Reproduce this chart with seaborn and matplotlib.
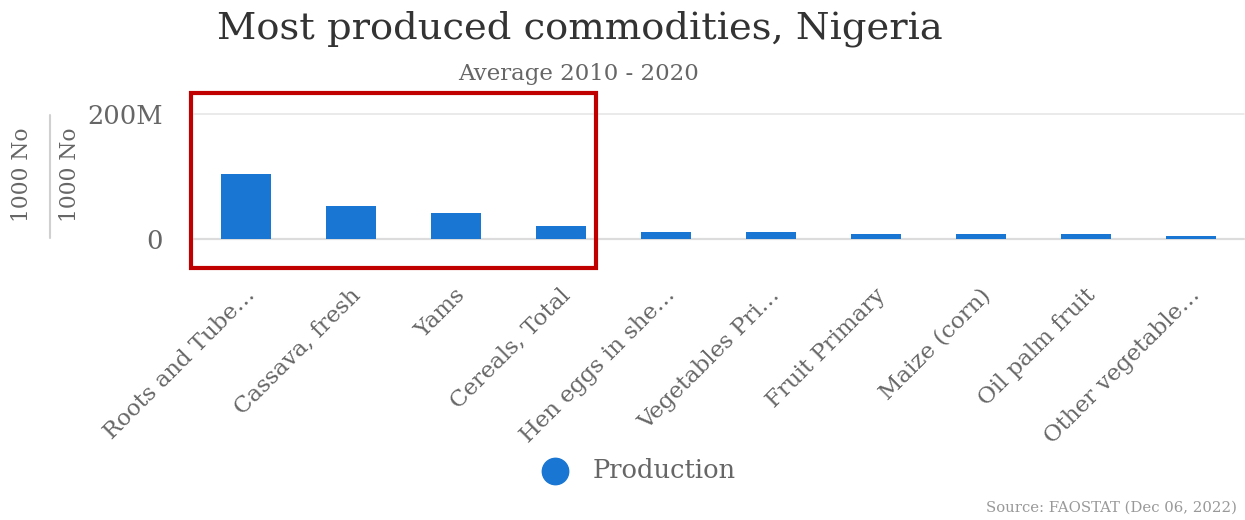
import matplotlib
matplotlib.use("Agg")
import matplotlib.pyplot as plt
import matplotlib.transforms as mtransforms
from matplotlib.patches import Rectangle
from matplotlib.lines import Line2D
import seaborn as sns
import pandas as pd

categories = [
    "Roots and Tube\u2026", "Cassava, fresh", "Yams", "Cereals, Total",
    "Hen eggs in she\u2026", "Vegetables Pri\u2026", "Fruit Primary",
    "Maize (corn)", "Oil palm fruit", "Other vegetable\u2026",
]
production = [104e6, 52e6, 42e6, 21e6, 11.5e6, 11e6, 7.8e6, 7.8e6, 7.9e6, 4.5e6]
y_ticks = [0, 200e6]
y_tick_labels = ["0", "200M"]

df = pd.DataFrame({"item": categories, "value": production})

sns.set_theme(style="white")
plt.rcParams["font.family"] = ["DejaVu Serif"]

W, H = 1245, 520
fig = plt.figure(figsize=(W / 100, H / 100), dpi=100)

def fx(px):
    return px / W

def fy(py):
    return 1 - py / H

left, right, top, base = 193.6, 1244, 114, 239
ax = fig.add_axes([fx(left), fy(base), fx(right - left), (base - top) / H])

bar_color = "#1976D2"
sns.barplot(data=df, x="item", y="value", color=bar_color, width=50 / 105,
            saturation=1, linewidth=0, ax=ax)

ax.set_xlim(-0.5, len(categories) - 0.5)
ax.set_ylim(0, 200e6)
for s in ax.spines.values():
    s.set_visible(False)
ax.set_xlabel("")
ax.set_ylabel("")

# grid line at the top and axis line at zero
ax.axhline(200e6, color="#e6e6e6", lw=1.2, zorder=0, clip_on=False)
ax.axhline(0, color="#dcdcdc", lw=1.6, zorder=0.5, clip_on=False)

# y ticks
ax.set_yticks(y_ticks)
ax.set_yticklabels(y_tick_labels, fontsize=18.5, color="#666666")
ax.tick_params(axis="y", length=0, pad=22)

# x category labels rotated
ax.set_xticks(range(len(categories)))
ax.set_xticklabels(categories, rotation=45, ha="right", va="center",
                   rotation_mode="anchor", fontsize=16.5, color="#666666")
ax.tick_params(axis="x", which="major", length=0, pad=38)
offset = mtransforms.ScaledTranslation(4 / 72, 0, fig.dpi_scale_trans)
for lbl in ax.get_xticklabels():
    lbl.set_transform(lbl.get_transform() + offset)

# category boundary ticks
ax.set_xticks([i + 0.5 for i in range(len(categories))], minor=True)
ax.tick_params(axis="x", which="minor", length=12, width=1.2,
               color="#dcdcdc", direction="out")

# titles
fig.text(fx(580), fy(29), "Most produced commodities, Nigeria",
         ha="center", va="center", fontsize=27.7, color="#333333")
fig.text(fx(579), fy(74), "Average 2010 - 2020",
         ha="center", va="center", fontsize=16.5, color="#666666")

# vertical axis titles
fig.text(fx(22), fy(175), "1000 No", rotation=90, ha="center", va="center",
         fontsize=15.7, color="#666666")
fig.text(fx(70), fy(175), "1000 No", rotation=90, ha="center", va="center",
         fontsize=15.7, color="#666666")
fig.add_artist(Line2D([fx(50), fx(50)], [fy(115), fy(238)],
                      color="#d0d0d0", lw=1.5, transform=fig.transFigure))

# highlight box
fig.add_artist(Rectangle((fx(191), fy(268)), fx(596 - 191), (268 - 93) / H,
                         fill=False, edgecolor="#C00000", lw=3,
                         transform=fig.transFigure))

# legend
fig.add_artist(Line2D([fx(555)], [fy(471)], marker="o", markersize=19,
                      color=bar_color, lw=0, transform=fig.transFigure))
fig.text(fx(593), fy(471), "Production", ha="left", va="center",
         fontsize=18.5, color="#666666")

fig.text(fx(1237), fy(508), "Source: FAOSTAT (Dec 06, 2022)", ha="right",
         va="center", fontsize=10.7, color="#999999")

fig.savefig("out.png", dpi=100)
